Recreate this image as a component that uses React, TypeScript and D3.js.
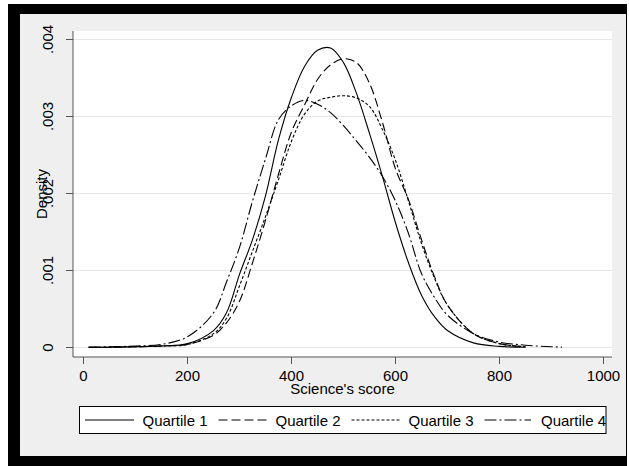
import React from 'react';
import * as d3 from 'd3';

// Science's score grid (x values) and the density read for each quartile
const scoreGrid = [10, 50, 100, 150, 200, 250, 275, 300, 325, 350, 375, 400, 425, 450, 475, 500, 525, 550, 575, 600, 625, 650, 675, 700, 750, 800, 850, 900, 920];

const quartile1 = [0.000002, 0.000004, 0.00001, 0.00002, 0.00005, 0.00022, 0.00045, 0.00095, 0.0014, 0.00197, 0.0027, 0.00325, 0.00365, 0.00386, 0.00389, 0.0037, 0.0033, 0.00278, 0.00222, 0.00162, 0.0011, 0.00068, 0.0004, 0.00022, 0.00006, 0.000015, 0.000003, null, null];
const quartile2 = [0.000002, 0.000004, 0.00001, 0.00002, 0.00004, 0.00016, 0.00032, 0.0006, 0.0011, 0.00165, 0.00225, 0.0028, 0.00315, 0.00348, 0.00367, 0.00375, 0.0037, 0.00343, 0.00292, 0.00232, 0.00192, 0.0014, 0.00092, 0.00055, 0.00018, 0.00005, 0.00001, null, null];
const quartile3 = [0.000002, 0.000004, 0.00001, 0.00002, 0.00004, 0.00018, 0.00038, 0.0008, 0.00125, 0.0017, 0.00218, 0.00268, 0.00303, 0.0032, 0.00325, 0.00327, 0.00324, 0.00313, 0.00283, 0.00243, 0.0019, 0.00135, 0.0009, 0.00055, 0.00018, 0.00005, 0.00001, null, null];
const quartile4 = [0.000003, 0.000008, 0.00002, 0.00004, 0.00014, 0.00045, 0.00085, 0.0013, 0.0019, 0.00245, 0.00296, 0.00314, 0.00321, 0.00316, 0.00305, 0.00288, 0.00268, 0.00247, 0.00222, 0.0019, 0.00148, 0.00096, 0.00065, 0.00042, 0.00018, 0.00007, 0.00003, 0.00001, 0.000005];

const seriesNames = ['Quartile 1', 'Quartile 2', 'Quartile 3', 'Quartile 4'];
const seriesValues = [quartile1, quartile2, quartile3, quartile4];
const dashPatterns = ['none', '9,4', '3,2', '12,3,2,3'];

const xTicks = [0, 200, 400, 600, 800, 1000];
const yTicks = [0, 0.001, 0.002, 0.003, 0.004];
const yTickLabels = ['0', '.001', '.002', '.003', '.004'];

const FONT = '"Liberation Sans", Arial, Helvetica, sans-serif';

export default function App() {
  const plotLeft = 73;
  const plotRight = 612;
  const plotTop = 31;
  const plotBottom = 357;

  const x = d3.scaleLinear().domain([0, 1000]).range([83.5, 603.5]);
  const y = d3.scaleLinear().domain([0, 0.004]).range([347.5, 39.5]);

  const line = d3
    .line<[number, number | null]>()
    .defined((d) => d[1] !== null)
    .x((d) => x(d[0]))
    .y((d) => y(d[1] as number))
    .curve(d3.curveCatmullRom.alpha(0.5));

  const legendItems = [
    { lx1: 85, lx2: 134, tx: 142.5 },
    { lx1: 218.5, lx2: 267, tx: 275.5 },
    { lx1: 351.5, lx2: 400.5, tx: 408.5 },
    { lx1: 484.5, lx2: 531, tx: 541 },
  ];

  return (
    <svg
      width={629}
      height={466}
      style={{ position: 'absolute', left: 0, top: 0, background: '#ffffff' }}
      fontFamily={FONT}
    >
      {/* outer black frame and gray panel */}
      <rect x={8} y={4} width={619} height={462} fill="#000" />
      <rect x={20} y={14} width={606} height={442} fill="#efefef" />

      {/* plot area */}
      <rect x={plotLeft} y={plotTop} width={plotRight - plotLeft} height={plotBottom - plotTop} fill="#fff" />

      {/* gridlines */}
      {yTicks.map((t) => (
        <line key={'g' + t} x1={plotLeft} x2={plotRight} y1={y(t)} y2={y(t)} stroke="#e6e6e6" strokeWidth={1} />
      ))}

      {/* curves */}
      {seriesValues.map((vals, i) => {
        const pts = scoreGrid.map((s, j) => [s, vals[j]] as [number, number | null]);
        return (
          <path
            key={seriesNames[i]}
            d={line(pts) || ''}
            fill="none"
            stroke="#000"
            strokeWidth={1.1}
            strokeDasharray={dashPatterns[i]}
          />
        );
      })}

      {/* axes */}
      <line x1={plotLeft} x2={plotLeft} y1={plotTop} y2={plotBottom} stroke="#555" strokeWidth={1} />
      <line x1={plotLeft} x2={plotRight} y1={plotBottom} y2={plotBottom} stroke="#555" strokeWidth={1} />

      {yTicks.map((t, i) => (
        <g key={'yt' + t}>
          <line x1={plotLeft - 7} x2={plotLeft} y1={y(t)} y2={y(t)} stroke="#555" strokeWidth={1} />
          <text
            transform={`translate(53,${y(t)}) rotate(-90)`}
            textAnchor="middle"
            fontSize={15}
            fill="#000"
          >
            {yTickLabels[i]}
          </text>
        </g>
      ))}

      {xTicks.map((t) => (
        <g key={'xt' + t}>
          <line x1={x(t)} x2={x(t)} y1={plotBottom} y2={plotBottom + 7} stroke="#555" strokeWidth={1} />
          <text x={x(t)} y={381} textAnchor="middle" fontSize={15} fill="#000">
            {t}
          </text>
        </g>
      ))}

      {/* axis titles */}
      <text x={(plotLeft + plotRight) / 2} y={394} textAnchor="middle" fontSize={15} fill="#000">
        Science's score
      </text>
      <text transform={`translate(47,194) rotate(-90)`} textAnchor="middle" fontSize={15} fill="#000">
        Density
      </text>

      {/* legend */}
      <rect x={79.5} y={406.5} width={526.5} height={27} fill="#fff" stroke="#000" strokeWidth={1} />
      {legendItems.map((it, i) => (
        <g key={'lg' + i}>
          <line
            x1={it.lx1}
            x2={it.lx2}
            y1={420}
            y2={420}
            stroke="#000"
            strokeWidth={1.1}
            strokeDasharray={dashPatterns[i]}
          />
          <text x={it.tx} y={426} fontSize={15} fill="#000">
            {seriesNames[i]}
          </text>
        </g>
      ))}
    </svg>
  );
}
